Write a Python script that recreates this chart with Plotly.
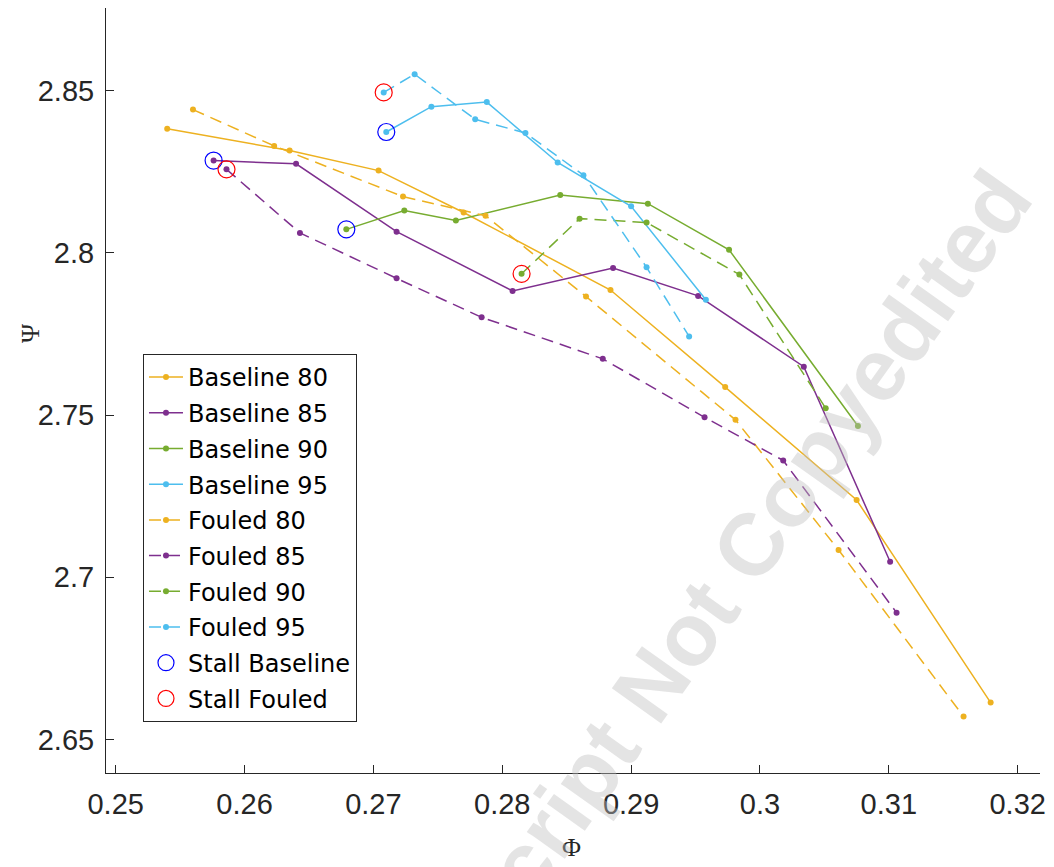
import plotly.graph_objects as go

# ---- data ----
b80_x = [0.2540, 0.2635, 0.2704, 0.2770, 0.2884, 0.2973, 0.3075, 0.3179]
b80_y = [2.8382, 2.8315, 2.8253, 2.8124, 2.7885, 2.7586, 2.7238, 2.6614]
b85_x = [0.2576, 0.2640, 0.2718, 0.2808, 0.2886, 0.2952, 0.3034, 0.3101]
b85_y = [2.8284, 2.8274, 2.8065, 2.7882, 2.7953, 2.7867, 2.7649, 2.7048]
b90_x = [0.2679, 0.2724, 0.2764, 0.2845, 0.2913, 0.2976, 0.3076]
b90_y = [2.8072, 2.8130, 2.8099, 2.8178, 2.8151, 2.8009, 2.7466]
b95_x = [0.2710, 0.2745, 0.2788, 0.2843, 0.2900, 0.2958]
b95_y = [2.8372, 2.8450, 2.8464, 2.8278, 2.8143, 2.7855]

f80_x = [0.2560, 0.2623, 0.2723, 0.2787, 0.2865, 0.2981, 0.3061, 0.3158]
f80_y = [2.8441, 2.8329, 2.8173, 2.8114, 2.7865, 2.7485, 2.7084, 2.6571]
f85_x = [0.2586, 0.2643, 0.2718, 0.2784, 0.2878, 0.2957, 0.3018, 0.3106]
f85_y = [2.8257, 2.8061, 2.7921, 2.7801, 2.7673, 2.7493, 2.7360, 2.6891]
f90_x = [0.2815, 0.2860, 0.2912, 0.2984, 0.3051]
f90_y = [2.7935, 2.8105, 2.8093, 2.7933, 2.7521]
f95_x = [0.2708, 0.2732, 0.2779, 0.2818, 0.2863, 0.2912, 0.2945]
f95_y = [2.8494, 2.8550, 2.8411, 2.8369, 2.8239, 2.7955, 2.7742]

stall_b_x = [0.2576, 0.2679, 0.2710]
stall_b_y = [2.8284, 2.8072, 2.8372]
stall_f_x = [0.2586, 0.2815, 0.2708]
stall_f_y = [2.8257, 2.7935, 2.8494]

x_ticks = [0.25, 0.26, 0.27, 0.28, 0.29, 0.30, 0.31, 0.32]
x_ticklabels = ["0.25", "0.26", "0.27", "0.28", "0.29", "0.3", "0.31", "0.32"]
y_ticks = [2.65, 2.70, 2.75, 2.80, 2.85]
y_ticklabels = ["2.65", "2.7", "2.75", "2.8", "2.85"]

colors = {"80": "#EDB120", "85": "#7E2F8E", "90": "#77AC30", "95": "#4DBEEE"}

fig = go.Figure()

series = [
    ("Baseline 80", b80_x, b80_y, "80", "solid"),
    ("Baseline 85", b85_x, b85_y, "85", "solid"),
    ("Baseline 90", b90_x, b90_y, "90", "solid"),
    ("Baseline 95", b95_x, b95_y, "95", "solid"),
    ("Fouled 80", f80_x, f80_y, "80", "12px,7px"),
    ("Fouled 85", f85_x, f85_y, "85", "12px,7px"),
    ("Fouled 90", f90_x, f90_y, "90", "12px,7px"),
    ("Fouled 95", f95_x, f95_y, "95", "12px,7px"),
]
for i, (name, xs, ys, key, dash) in enumerate(series):
    fig.add_trace(go.Scatter(
        x=xs, y=ys, name=name, mode="lines+markers", legendgroup=f"g{i}",
        line=dict(color=colors[key], width=1.5, dash=dash),
        marker=dict(color=colors[key], size=6, symbol="circle"),
    ))

fig.add_trace(go.Scatter(
    x=stall_b_x, y=stall_b_y, name="Stall Baseline", mode="markers", legendgroup="g8",
    marker=dict(symbol="circle-open", size=17, color="#0000FF", line=dict(width=1.2, color="#0000FF")),
))
fig.add_trace(go.Scatter(
    x=stall_f_x, y=stall_f_y, name="Stall Fouled", mode="markers", legendgroup="g9",
    marker=dict(symbol="circle-open", size=17, color="#FF0000", line=dict(width=1.2, color="#FF0000")),
))

axis_common = dict(
    showgrid=False, zeroline=False, showline=True, linecolor="#262626", linewidth=1,
    ticks="inside", ticklen=8, tickcolor="#262626", tickwidth=1, mirror=False,
    automargin=False,
    tickfont=dict(family="Liberation Sans, Arial", size=29, color="#262626"),
)

fig.update_layout(
    width=1046, height=859,
    margin=dict(l=98, r=14, t=0, b=94),
    paper_bgcolor="white", plot_bgcolor="white",
    xaxis=dict(range=[0.24925, 0.32173], tickvals=x_ticks, ticktext=x_ticklabels,
               ticklabelstandoff=5, **axis_common),
    yaxis=dict(range=[2.6397, 2.8754], tickvals=y_ticks, ticktext=y_ticklabels,
               ticklabelstandoff=5, **axis_common),
    legend=dict(
        x=0.0396, y=0.5477, xanchor="left", yanchor="top",
        bgcolor="white", bordercolor="#262626", borderwidth=1,
        font=dict(family="DejaVu Sans, Verdana", size=24, color="black"),
        tracegroupgap=1.5, itemwidth=34,
    ),
    showlegend=True,
    annotations=[
        dict(text="Ψ", xref="paper", yref="paper", x=-0.0814, y=0.575, showarrow=False,
             xanchor="center", yanchor="middle",
             textangle=-90, font=dict(family="Liberation Serif, Times New Roman", size=26, color="#262626")),
        dict(text="Φ", xref="paper", yref="paper", x=0.498, y=-0.098, showarrow=False,
             xanchor="center", yanchor="middle",
             font=dict(family="Liberation Serif, Times New Roman", size=26, color="#262626")),
        dict(text="<b>Script Not Copyedited</b>", xref="paper", yref="paper", x=0.681, y=0.282,
             showarrow=False, textangle=-54.5, xanchor="center", yanchor="middle",
             font=dict(family="Liberation Sans, Arial", size=88, color="rgba(190,190,190,0.42)")),
    ],
)

fig.write_html("out.html")
